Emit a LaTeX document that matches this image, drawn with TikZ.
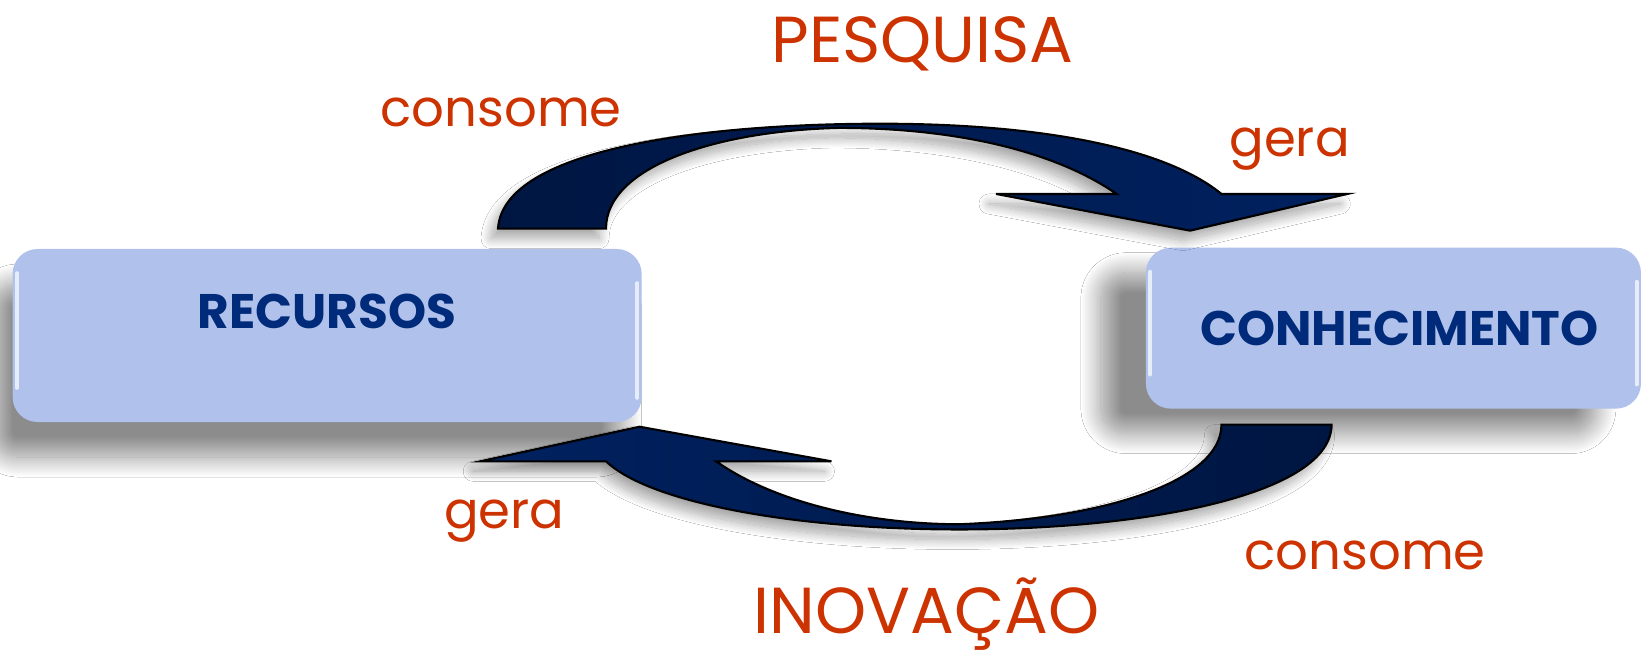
\documentclass[tikz,border=0pt]{standalone}
\usepackage{fontspec}
\setmainfont{Poppins}
\usetikzlibrary{positioning, shadows.blur}

\definecolor{caixaazul}{RGB}{176,194,236}
\definecolor{textoazul}{RGB}{0,42,122}
\definecolor{setaescura}{RGB}{0,22,66}
\definecolor{setaclara}{RGB}{0,33,96}
\definecolor{laranja}{RGB}{204,51,0}

\begin{document}
\begin{tikzpicture}[x=0.10485mm,y=-0.10485mm,node distance=1cm]
\tikzstyle{caixa}=[rectangle, rounded corners=2.5mm, fill=caixaazul, inner sep=0pt]
\tikzstyle{rotulo}=[font=\bfseries\fontsize{13.8}{16}\selectfont, text=textoazul]
\tikzstyle{verbo}=[font=\fontsize{14.6}{17}\selectfont, text=laranja, anchor=base]
\tikzstyle{titulo}=[font=\fontsize{18.5}{21}\selectfont, text=laranja, anchor=base]
\tikzstyle{seta}=[draw=black, line width=0.6pt,
  blur shadow={shadow xshift=-0.7mm, shadow yshift=-1mm, shadow opacity=35, shadow blur radius=1mm, shadow blur steps=20}]
\tikzstyle{brilho}=[white, opacity=0.7, line width=1.2pt, line cap=round]

\useasboundingbox (0,0) rectangle (1568,630);
\fill[white] (0,0) rectangle (1568,630);

% caixas
\node[caixa, minimum width=62.9mm, minimum height=17.3mm,
  blur shadow={shadow xshift=-2mm, shadow yshift=-3.5mm, shadow opacity=45, shadow blur radius=2mm, shadow blur steps=24}]
  (recursos) at (312,320) {};
\node[caixa, minimum width=49.5mm, minimum height=16.1mm,
  blur shadow={shadow xshift=-4.5mm, shadow yshift=-2.5mm, shadow opacity=45, shadow blur radius=2mm, shadow blur steps=24}]
  (conhecimento) at (1329,313) {};

\draw[brilho] ([xshift=0.5mm,yshift=-2.5mm]recursos.north west) -- ([xshift=0.5mm,yshift=3.5mm]recursos.south west);
\draw[brilho] ([xshift=-0.5mm,yshift=-3.5mm]recursos.north east) -- ([xshift=-0.5mm,yshift=2.5mm]recursos.south east);
\draw[brilho] ([xshift=0.5mm,yshift=-2.5mm]conhecimento.north west) -- ([xshift=0.5mm,yshift=3.5mm]conhecimento.south west);
\draw[brilho] ([xshift=-0.5mm,yshift=-3.5mm]conhecimento.north east) -- ([xshift=-0.5mm,yshift=2.5mm]conhecimento.south east);

\node[rotulo, below = 3.3mm of recursos.north] (recursostexto) {RECURSOS};
\node[rotulo] (conhecimentotexto) at ([xshift=0.6mm]conhecimento.center) {CONHECIMENTO};

% setas
\path[seta, left color=setaescura, right color=setaclara]
  (475,218) .. controls (480,140) and (680,118) .. (840,118)
  .. controls (990,118) and (1110,140) .. (1165,185)
  -- (1285,185) -- (1135,220) -- (950,185) -- (1065,185)
  .. controls (1000,140) and (900,122) .. (800,122)
  .. controls (680,125) and (578,160) .. (578,218) -- cycle;
\path[seta, left color=setaclara, right color=setaescura]
  (1270,405) .. controls (1270,470) and (1100,505) .. (915,505)
  .. controls (760,505) and (620,480) .. (578,440)
  -- (458,440) -- (610,407) -- (793,440) -- (683,440)
  .. controls (740,480) and (830,500) .. (915,500)
  .. controls (1050,495) and (1165,460) .. (1165,405) -- cycle;

% textos
\node[titulo] (pesquisa) at (880,60) {PESQUISA};
\node[titulo] (inovacao) at (884,604) {INOVAÇÃO};
\node[verbo] (consomecima) at (478,121) {consome};
\node[verbo] (geracima) at (1230,149) {gera};
\node[verbo] (gerabaixo) at (481,504) {gera};
\node[verbo] (consomebaixo) at (1302,543) {consome};
\end{tikzpicture}
\end{document}
